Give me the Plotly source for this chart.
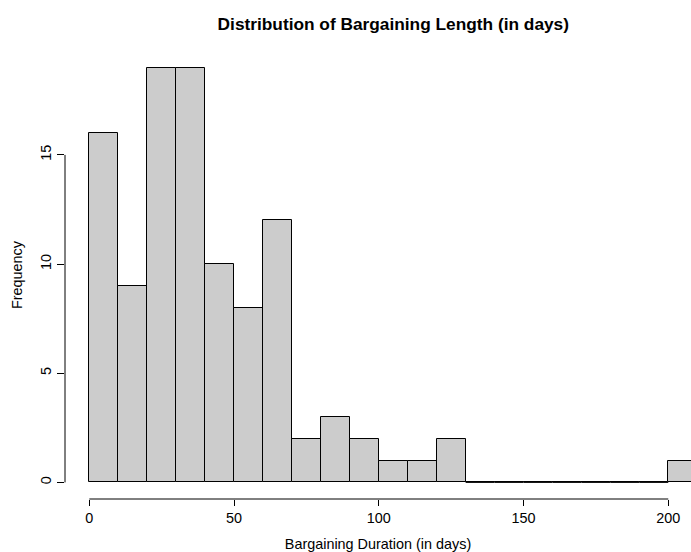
import plotly.graph_objects as go

# Histogram of bargaining durations, bins of 10 days
bin_left = [0, 10, 20, 30, 40, 50, 60, 70, 80, 90, 100, 110, 120, 130,
            140, 150, 160, 170, 180, 190, 200]
counts = [16, 9, 19, 19, 10, 8, 12, 2, 3, 2, 1, 1, 2, 0,
          0, 0, 0, 0, 0, 0, 1]
bin_width = 10
x_ticks = [0, 50, 100, 150, 200]
y_ticks = [0, 5, 10, 15]

FONT = "Liberation Sans, Arial, Helvetica, sans-serif"
FILL = "#cccccc"
BASE = 14.4

centers = [b + bin_width / 2 for b in bin_left]

fig = go.Figure()
fig.add_trace(go.Bar(
    x=centers, y=counts, width=bin_width,
    marker=dict(color=FILL, line=dict(color="black", width=1)),
    hoverinfo="x+y", showlegend=False,
))

# empty bins are drawn as flat outlines on the baseline
zx, zy = [], []
for b, c in zip(bin_left, counts):
    if c == 0:
        zx += [b, b + bin_width, None]
        zy += [0, 0, None]
fig.add_trace(go.Scatter(x=zx, y=zy, mode="lines",
                         line=dict(color="black", width=1),
                         hoverinfo="skip", showlegend=False))

# axis lines span only the tick range
fig.add_shape(type="line", xref="x", yref="paper",
              x0=x_ticks[0], x1=x_ticks[-1], y0=0, y1=0,
              line=dict(color="black", width=1))
fig.add_shape(type="line", xref="paper", yref="y",
              x0=0, x1=0, y0=y_ticks[0], y1=y_ticks[-1],
              line=dict(color="black", width=1))

fig.update_layout(
    width=691, height=552,
    margin=dict(l=65, r=0, t=51, b=53),
    paper_bgcolor="white", plot_bgcolor="white",
    font=dict(family=FONT, size=BASE, color="black"),
    bargap=0,
    title=dict(text="<b>Distribution of Bargaining Length (in days)</b>",
               font=dict(family=FONT, size=17.3, color="black"),
               xref="container", yref="container",
               x=393.3 / 691, y=1 - 24 / 552,
               xanchor="center", yanchor="middle"),
    xaxis=dict(range=[-8.4, 207.85], showgrid=False, zeroline=False,
               showline=False, tickmode="array", tickvals=x_ticks,
               ticks="outside", ticklen=6, tickcolor="black",
               tickfont=dict(size=BASE),
               title=dict(text="Bargaining Duration (in days)",
                          font=dict(size=BASE), standoff=13)),
    yaxis=dict(range=[-0.76, 19.76], showgrid=False, zeroline=False,
               showline=False, tickmode="array", tickvals=y_ticks,
               ticks="outside", ticklen=7, tickcolor="black",
               tickangle=-90, tickfont=dict(size=BASE),
               title=dict(text="Frequency", font=dict(size=BASE), standoff=12)),
)

fig.write_html("out.html")
